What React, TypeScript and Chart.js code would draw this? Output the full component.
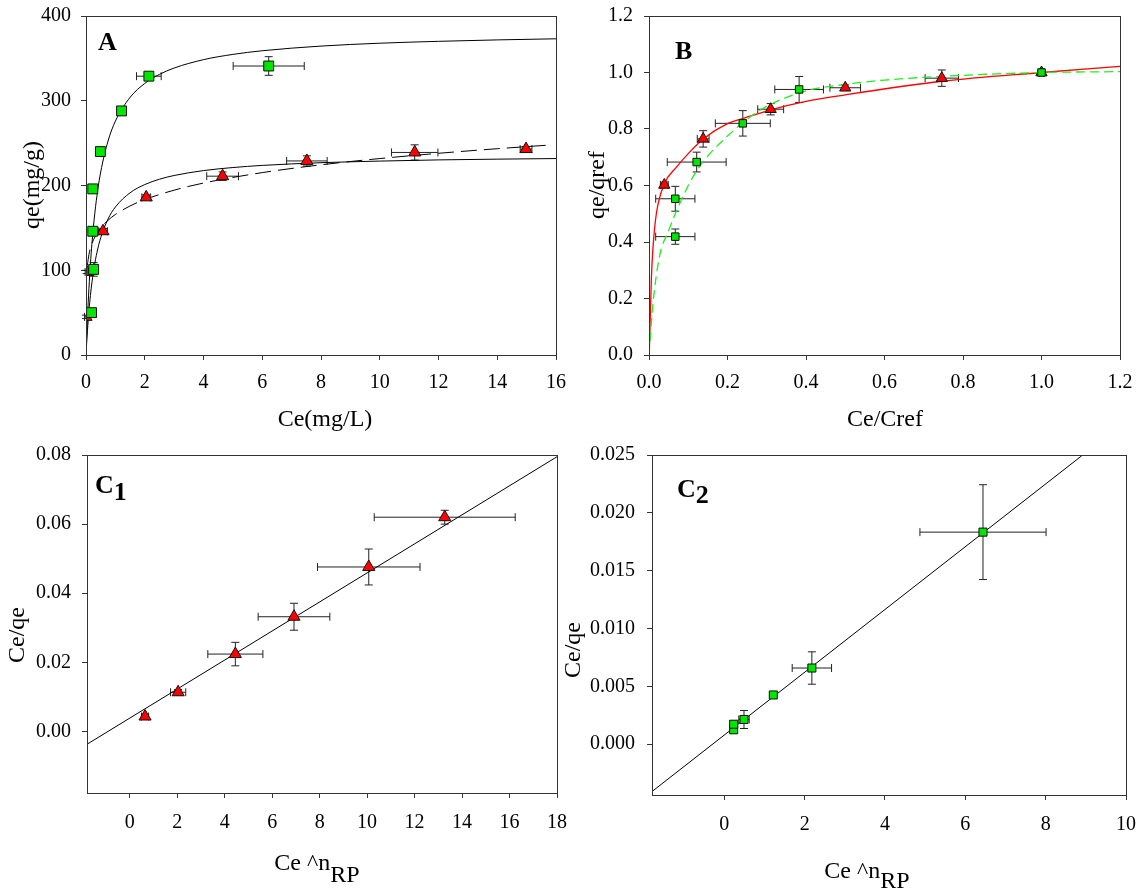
import React, { useEffect, useRef } from 'react';
import { Chart, registerables } from 'chart.js';

Chart.register(...registerables);

const SERIF = '"Liberation Serif", "Times New Roman", Times, serif';
const GREEN = '#00e600';
const RED = '#ff0000';
const AXIS = '#333333';

// ---------- Panel A : qe vs Ce ----------
const aGreenCe = [0.19, 0.26, 0.23, 0.23, 0.49, 1.21, 2.14, 6.22];
const aGreenQe = [50, 101, 146, 196, 240, 288, 329, 341];
const aGreenCeErr = [0.05, 0.06, 0.06, 0.05, 0.06, 0.05, 0.42, 1.21];
const aGreenQeErr = [3, 8, 3, 4, 4, 3, 4, 11];

const aRedCe = [0.0, 0.02, 0.58, 2.05, 4.65, 7.52, 11.19, 14.98];
const aRedQe = [45, 98, 146, 186, 211, 229, 239, 243];
const aRedCeErr = [0.05, 0.05, 0.15, 0.15, 0.54, 0.69, 0.79, 0.2];
const aRedQeErr = [2, 2, 3, 3, 5, 6, 9, 3];

const aFitCe = [0, 0.02, 0.05, 0.1, 0.15, 0.2, 0.3, 0.4, 0.5, 0.75, 1, 1.5, 2, 2.5, 3, 4, 5, 6, 8, 10, 12, 14, 16];
const aFitGreen = [0, 18.9, 43.9, 78.8, 107.2, 130.7, 167.4, 194.7, 215.9, 252.5, 275.9, 304, 320.4, 331.1, 338.6, 348.5, 354.7, 359, 364.5, 367.9, 370.1, 371.8, 373.1];
const aFitRed = [0, 12.6, 29.1, 51.8, 70.1, 85.1, 108.2, 125.2, 138.3, 160.5, 174.6, 191.4, 201.1, 207.4, 211.8, 217.6, 221.2, 223.7, 226.9, 228.8, 230.2, 231.1, 231.8];
const aDashCe = [0.045, 0.1, 0.2, 0.3, 0.5, 0.75, 1, 1.5, 2, 3, 4, 6, 8, 10, 12, 14, 15.8];
const aDashQe = [105.6, 118.6, 131.2, 139.1, 149.9, 159, 165.8, 175.9, 183.4, 194.5, 202.9, 215.2, 224.4, 231.8, 238, 243.4, 247.8];

const aXTicks = [0, 2, 4, 6, 8, 10, 12, 14, 16];
const aYTicks = [0, 100, 200, 300, 400];

// ---------- Panel B : qe/qref vs Ce/Cref ----------
const bGreenX = [0.067, 0.067, 0.1215, 0.239, 0.3825, 1.0];
const bGreenY = [0.419, 0.553, 0.683, 0.82, 0.94, 1.0];
const bGreenXErr = [0.05, 0.05, 0.075, 0.07, 0.062, 0.005];
const bGreenYErr = [0.027, 0.044, 0.035, 0.045, 0.046, 0.01];

const bRedX = [0.039, 0.138, 0.31, 0.5, 0.746, 1.0];
const bRedY = [0.602, 0.765, 0.87, 0.946, 0.98, 1.0];
const bRedXErr = [0.01, 0.015, 0.033, 0.039, 0.0425, 0.005];
const bRedYErr = [0.01, 0.029, 0.02, 0.01, 0.029, 0.005];

const bRedFitX = [0, 0.0016, 0.006, 0.0102, 0.0187, 0.039, 0.07, 0.1, 0.138, 0.2, 0.239, 0.31, 0.4, 0.5, 0.746, 1.0, 1.2];
const bRedFitY = [0, 0.05, 0.27, 0.38, 0.5, 0.605, 0.665, 0.713, 0.765, 0.819, 0.837, 0.868, 0.898, 0.921, 0.969, 1.0, 1.022];
const bGreenFitX = [0, 0.01, 0.027, 0.05, 0.067, 0.1, 0.1215, 0.15, 0.2, 0.25, 0.3, 0.4, 0.5, 0.6, 0.8, 1.0, 1.2];
const bGreenFitY = [0, 0.18, 0.35, 0.44, 0.5, 0.6, 0.652, 0.705, 0.775, 0.835, 0.88, 0.935, 0.958, 0.973, 0.99, 1.0, 1.003];

const bTicks = [0, 0.2, 0.4, 0.6, 0.8, 1.0, 1.2];

// ---------- Panel C1 : Ce/qe vs Ce^nRP (triangles) ----------
const c1X = [0.646, 2.04, 4.45, 6.92, 10.07, 13.27];
const c1Y = [0.00433, 0.01135, 0.0224, 0.0332, 0.0476, 0.062];
const c1XErr = [0.15, 0.32, 1.16, 1.51, 2.16, 2.97];
const c1YErr = [0.0005, 0.0008, 0.0034, 0.0039, 0.0052, 0.002];
const c1LineX = [-1.8, 18];
const c1LineY = [-0.0037, 0.0795];
const c1XTicks = [0, 2, 4, 6, 8, 10, 12, 14, 16, 18];
const c1YTicks = [0, 0.02, 0.04, 0.06, 0.08];

// ---------- Panel C2 : Ce/qe vs Ce^nRP (squares) ----------
const c2X = [0.233, 0.233, 0.49, 1.22, 2.18, 6.44];
const c2Y = [0.00124, 0.00172, 0.00213, 0.00425, 0.00658, 0.01833];
const c2XErr = [0.05, 0.05, 0.13, 0.05, 0.49, 1.57];
const c2YErr = [0.0002, 0.0002, 0.00078, 0.0001, 0.0014, 0.0041];
const c2LineX = [-1.8, 8.9];
const c2LineY = [-0.0041, 0.02494];
const c2XTicks = [0, 2, 4, 6, 8, 10];
const c2YTicks = [0, 0.005, 0.01, 0.015, 0.02, 0.025];

// ---------- helpers ----------
const pts = (xs: number[], ys: number[]) => xs.map((x, i) => ({ x, y: ys[i] }));

const markers = (xs: number[], ys: number[], ex: number[], ey: number[], shape: string, color: string, r: number) => ({
  data: pts(xs, ys),
  showLine: false,
  pointStyle: shape,
  pointRadius: r,
  pointHoverRadius: r,
  pointBackgroundColor: color,
  pointBorderColor: '#111',
  pointBorderWidth: 1,
  errX: ex,
  errY: ey,
});

const curve = (xs: number[], ys: number[], color: string, dash: number[], width = 1) => ({
  data: pts(xs, ys),
  showLine: true,
  pointRadius: 0,
  pointHoverRadius: 0,
  borderColor: color,
  borderWidth: width,
  borderDash: dash,
  cubicInterpolationMode: 'monotone',
  fill: false,
});

const errorBarPlugin = {
  id: 'errorBars',
  beforeDatasetsDraw(chart: any) {
    const { ctx } = chart;
    const xs = chart.scales.x;
    const ys = chart.scales.y;
    const cap = 4;
    ctx.save();
    ctx.strokeStyle = '#222';
    ctx.lineWidth = 1;
    chart.data.datasets.forEach((ds: any) => {
      if (!ds.errX && !ds.errY) return;
      ds.data.forEach((p: any, i: number) => {
        const px = xs.getPixelForValue(p.x);
        const py = ys.getPixelForValue(p.y);
        const ex = ds.errX ? ds.errX[i] : 0;
        const ey = ds.errY ? ds.errY[i] : 0;
        ctx.beginPath();
        if (ex > 0) {
          const x1 = xs.getPixelForValue(p.x - ex);
          const x2 = xs.getPixelForValue(p.x + ex);
          ctx.moveTo(x1, py); ctx.lineTo(x2, py);
          ctx.moveTo(x1, py - cap); ctx.lineTo(x1, py + cap);
          ctx.moveTo(x2, py - cap); ctx.lineTo(x2, py + cap);
        }
        if (ey > 0) {
          const y1 = ys.getPixelForValue(p.y - ey);
          const y2 = ys.getPixelForValue(p.y + ey);
          ctx.moveTo(px, y1); ctx.lineTo(px, y2);
          ctx.moveTo(px - cap, y1); ctx.lineTo(px + cap, y1);
          ctx.moveTo(px - cap, y2); ctx.lineTo(px + cap, y2);
        }
        ctx.stroke();
      });
    });
    ctx.restore();
  },
};

type Run = { text: string; dy: number };
type Decor = {
  label: Run[];
  labelX: number;
  labelY: number;
  xTitle: Run[];
  xTitleCx: number;
  xTitleY: number;
  yTitle: string;
  yTitleX: number;
  yTitleY: number;
};

const TITLE_FONT = `24px ${SERIF}`;
const LABEL_FONT = `bold 26px ${SERIF}`;

function drawRuns(ctx: CanvasRenderingContext2D, runs: Run[], x: number, y: number, centered: boolean) {
  const widths = runs.map((r) => ctx.measureText(r.text).width);
  const total = widths.reduce((a, b) => a + b, 0);
  let cx = centered ? x - total / 2 : x;
  runs.forEach((r, i) => {
    ctx.fillText(r.text, cx, y + r.dy);
    cx += widths[i];
  });
}

function decorPlugin(d: Decor, offX: number, offY: number) {
  return {
    id: 'decor',
    afterDraw(chart: any) {
      const { ctx, chartArea } = chart;
      ctx.save();
      ctx.strokeStyle = AXIS;
      ctx.lineWidth = 1;
      ctx.strokeRect(
        Math.round(chartArea.left) + 0.5,
        Math.round(chartArea.top) + 0.5,
        Math.round(chartArea.right - chartArea.left),
        Math.round(chartArea.bottom - chartArea.top)
      );
      ctx.fillStyle = '#000';
      ctx.textAlign = 'left';
      ctx.textBaseline = 'alphabetic';
      ctx.font = LABEL_FONT;
      drawRuns(ctx, d.label, d.labelX - offX, d.labelY - offY, false);
      ctx.font = TITLE_FONT;
      drawRuns(ctx, d.xTitle, d.xTitleCx - offX, d.xTitleY - offY, true);
      ctx.translate(d.yTitleX - offX, d.yTitleY - offY);
      ctx.rotate(-Math.PI / 2);
      ctx.textAlign = 'center';
      ctx.textBaseline = 'middle';
      ctx.fillText(d.yTitle, 0, 0);
      ctx.restore();
    },
  };
}

type Spec = {
  left: number; top: number; w: number; h: number;
  area: { left: number; top: number; right: number; bottom: number };
  xMin: number; xMax: number; xTicks: number[]; xFmt: (v: number) => string;
  yMin: number; yMax: number; yTicks: number[]; yFmt: (v: number) => string;
  xPad: number; yPad: number;
  datasets: any[];
  decor: Decor;
};

function makeConfig(s: Spec): any {
  const xH = s.top + s.h - s.area.bottom;
  const yW = s.area.left - s.left;
  const tickFont = { family: SERIF, size: 20 };
  const axisCommon = {
    type: 'linear',
    grid: { drawOnChartArea: false, drawTicks: true, tickLength: 5, color: AXIS, tickColor: AXIS },
    border: { display: true, color: AXIS, width: 1 },
  };
  return {
    type: 'scatter',
    data: { datasets: s.datasets },
    options: {
      animation: false,
      responsive: false,
      maintainAspectRatio: false,
      devicePixelRatio: 1,
      events: [],
      layout: { padding: { left: 0, top: s.area.top - s.top, right: s.left + s.w - s.area.right, bottom: 0 } },
      plugins: { legend: { display: false }, tooltip: { enabled: false } },
      scales: {
        x: {
          ...axisCommon,
          position: 'bottom',
          min: s.xMin,
          max: s.xMax,
          afterBuildTicks: (sc: any) => { sc.ticks = s.xTicks.map((v) => ({ value: v })); },
          afterFit: (sc: any) => { sc.height = xH; sc.paddingLeft = 0; sc.paddingRight = 0; },
          ticks: { font: tickFont, color: '#000', padding: s.xPad, autoSkip: false, maxRotation: 0, callback: (v: any) => s.xFmt(Number(v)) },
        },
        y: {
          ...axisCommon,
          position: 'left',
          min: s.yMin,
          max: s.yMax,
          afterBuildTicks: (sc: any) => { sc.ticks = s.yTicks.map((v) => ({ value: v })); },
          afterFit: (sc: any) => { sc.width = yW; sc.paddingTop = 0; sc.paddingBottom = 0; },
          ticks: { font: tickFont, color: '#000', padding: s.yPad, autoSkip: false, callback: (v: any) => s.yFmt(Number(v)) },
        },
      },
    },
    plugins: [errorBarPlugin, decorPlugin(s.decor, s.left, s.top)],
  };
}

const specA: Spec = {
  left: 0, top: 0, w: 571, h: 445,
  area: { left: 86, top: 16, right: 556, bottom: 355 },
  xMin: 0, xMax: 16, xTicks: aXTicks, xFmt: (v) => String(Math.round(v)),
  yMin: 0, yMax: 400, yTicks: aYTicks, yFmt: (v) => String(Math.round(v)),
  xPad: 11, yPad: 10,
  datasets: [
    markers(aGreenCe, aGreenQe, aGreenCeErr, aGreenQeErr, 'rect', GREEN, 7),
    markers(aRedCe, aRedQe, aRedCeErr, aRedQeErr, 'triangle', RED, 7),
    curve(aFitCe, aFitGreen, '#000', []),
    curve(aFitCe, aFitRed, '#000', []),
    curve(aDashCe, aDashQe, '#000', [16, 7]),
  ],
  decor: {
    label: [{ text: 'A', dy: 0 }], labelX: 98, labelY: 50,
    xTitle: [{ text: 'Ce(mg/L)', dy: 0 }], xTitleCx: 325, xTitleY: 426,
    yTitle: 'qe(mg/g)', yTitleX: 33, yTitleY: 185,
  },
};

const specB: Spec = {
  left: 556, top: 0, w: 586, h: 445,
  area: { left: 649, top: 16, right: 1120, bottom: 355 },
  xMin: 0, xMax: 1.2, xTicks: bTicks, xFmt: (v) => v.toFixed(1),
  yMin: 0, yMax: 1.2, yTicks: bTicks, yFmt: (v) => v.toFixed(1),
  xPad: 11, yPad: 11,
  datasets: [
    markers(bGreenX, bGreenY, bGreenXErr, bGreenYErr, 'rect', GREEN, 5.3),
    markers(bRedX, bRedY, bRedXErr, bRedYErr, 'triangle', RED, 6.5),
    curve(bGreenFitX, bGreenFitY, '#22ee22', [9, 5], 1.3),
    curve(bRedFitX, bRedFitY, RED, [], 1.3),
  ],
  decor: {
    label: [{ text: 'B', dy: 0 }], labelX: 675, labelY: 59,
    xTitle: [{ text: 'Ce/Cref', dy: 0 }], xTitleCx: 885, xTitleY: 426,
    yTitle: 'qe/qref', yTitleX: 598, yTitleY: 185,
  },
};

const specC1: Spec = {
  left: 0, top: 440, w: 571, h: 450,
  area: { left: 87, top: 455, right: 557, bottom: 793 },
  xMin: -1.8, xMax: 18, xTicks: c1XTicks, xFmt: (v) => String(Math.round(v)),
  yMin: -0.0178, yMax: 0.08, yTicks: c1YTicks, yFmt: (v) => v.toFixed(2),
  xPad: 13, yPad: 11,
  datasets: [
    markers(c1X, c1Y, c1XErr, c1YErr, 'triangle', RED, 7),
    curve(c1LineX, c1LineY, '#000', []),
  ],
  decor: {
    label: [{ text: 'C', dy: 0 }, { text: '1', dy: 7 }], labelX: 95, labelY: 493,
    xTitle: [{ text: 'Ce ^n', dy: 0 }, { text: 'RP', dy: 12 }], xTitleCx: 317, xTitleY: 870,
    yTitle: 'Ce/qe', yTitleX: 18, yTitleY: 635,
  },
};

const specC2: Spec = {
  left: 556, top: 440, w: 586, h: 450,
  area: { left: 652, top: 455, right: 1126, bottom: 795 },
  xMin: -1.8, xMax: 10, xTicks: c2XTicks, xFmt: (v) => String(Math.round(v)),
  yMin: -0.0044, yMax: 0.025, yTicks: c2YTicks, yFmt: (v) => v.toFixed(3),
  xPad: 13, yPad: 12,
  datasets: [
    markers(c2X, c2Y, c2XErr, c2YErr, 'rect', GREEN, 5.7),
    curve(c2LineX, c2LineY, '#000', []),
  ],
  decor: {
    label: [{ text: 'C', dy: 0 }, { text: '2', dy: 6 }], labelX: 677, labelY: 497,
    xTitle: [{ text: 'Ce ^n', dy: 0 }, { text: 'RP', dy: 10 }], xTitleCx: 867, xTitleY: 878,
    yTitle: 'Ce/qe', yTitleX: 574, yTitleY: 650,
  },
};

function Panel({ spec }: { spec: Spec }) {
  const ref = useRef<HTMLCanvasElement>(null);
  useEffect(() => {
    const chart = new Chart(ref.current as HTMLCanvasElement, makeConfig(spec));
    return () => chart.destroy();
  }, [spec]);
  return (
    <div style={{ position: 'absolute', left: spec.left, top: spec.top, width: spec.w, height: spec.h }}>
      <canvas ref={ref} width={spec.w} height={spec.h} style={{ display: 'block', width: spec.w, height: spec.h }} />
    </div>
  );
}

export default function App() {
  useEffect(() => {
    document.body.style.margin = '0';
    document.body.style.background = '#fff';
  }, []);
  return (
    <div style={{ position: 'relative', width: 1142, height: 890, background: '#fff', overflow: 'hidden' }}>
      <Panel spec={specA} />
      <Panel spec={specB} />
      <Panel spec={specC1} />
      <Panel spec={specC2} />
    </div>
  );
}
